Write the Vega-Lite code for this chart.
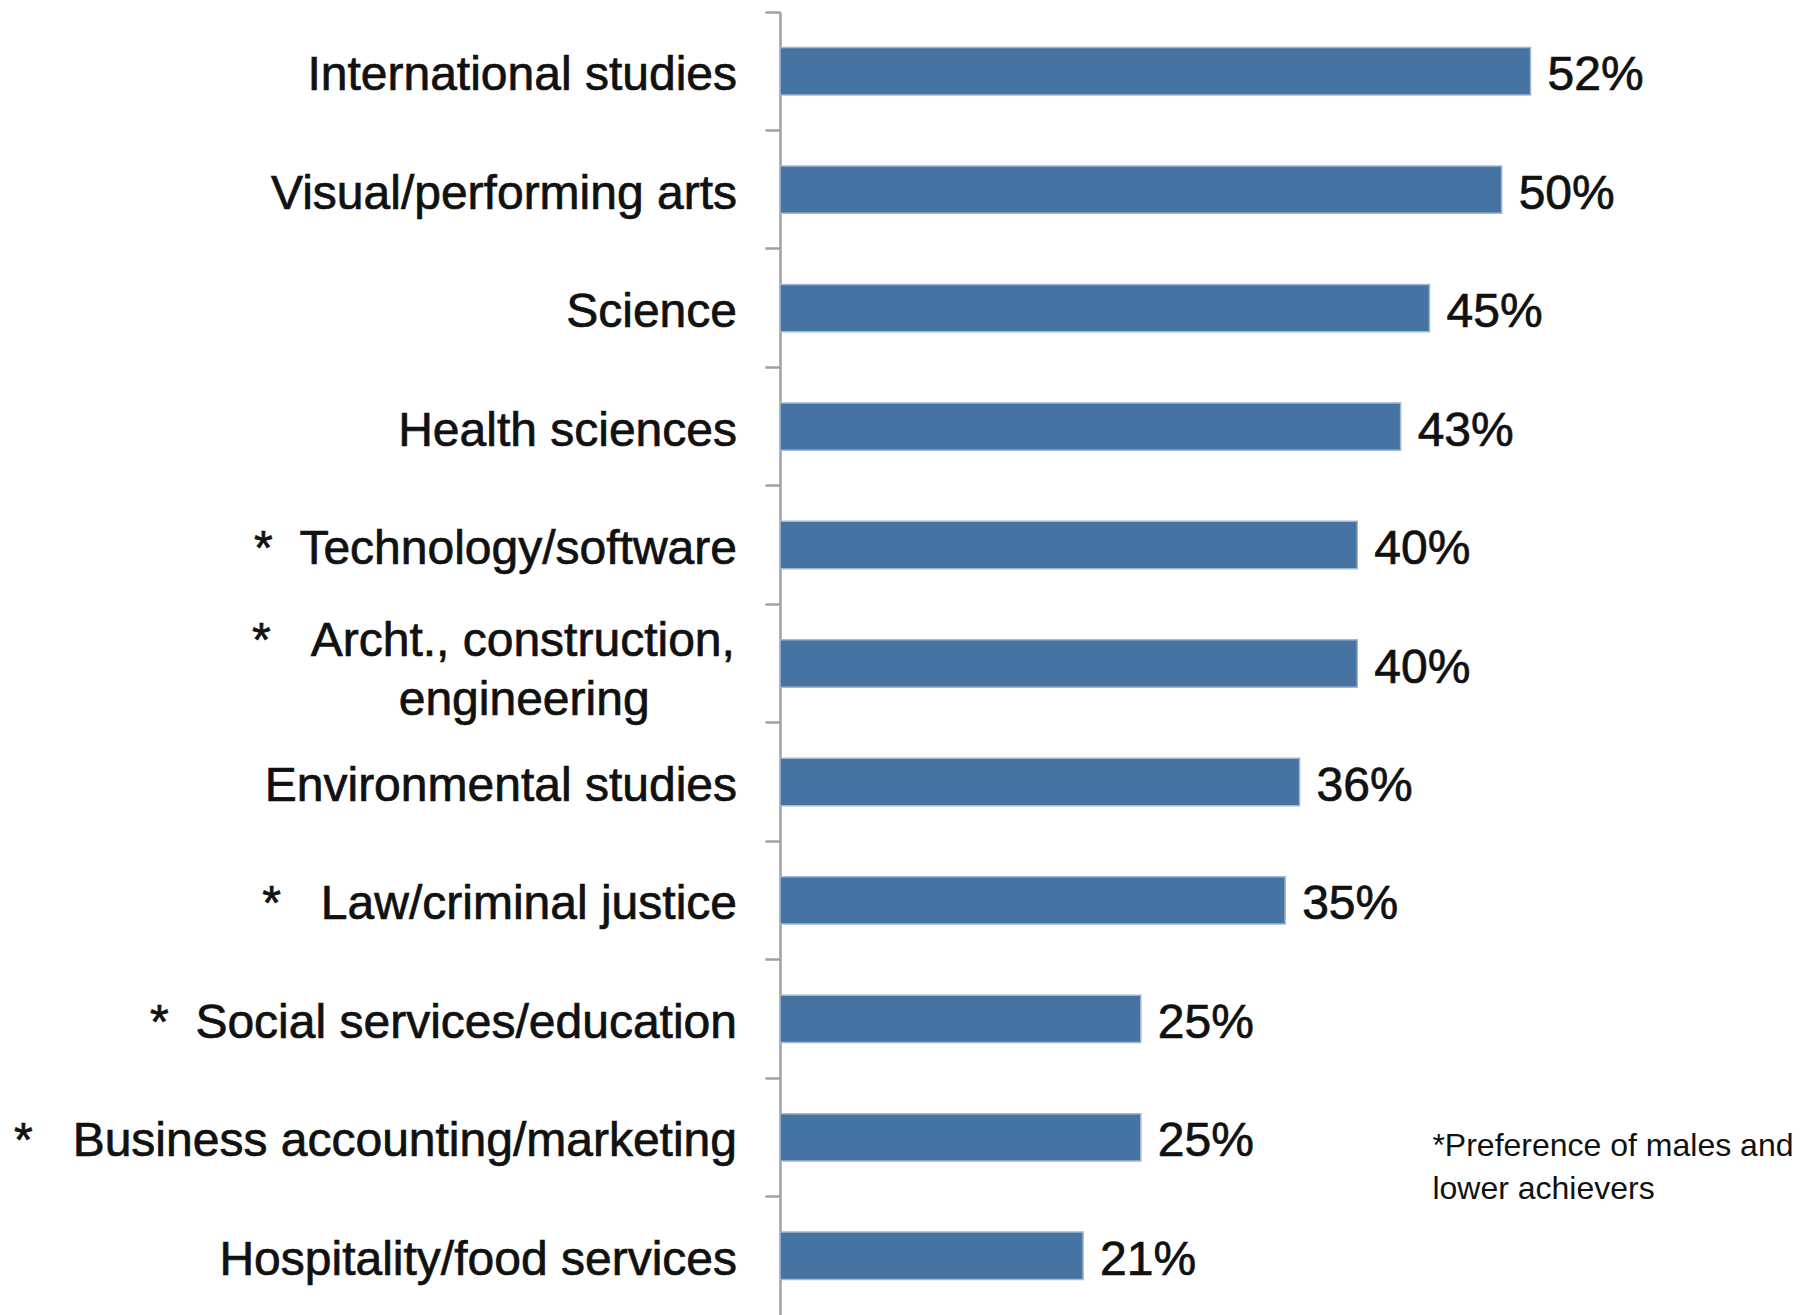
{
  "$schema": "https://vega.github.io/schema/vega-lite/v6.json",
  "autosize": {"type": "none"},
  "padding": {"left": 780, "top": 12, "right": 166, "bottom": 0},
  "width": 866,
  "height": 1303,
  "background": "white",
  "config": {
    "view": {"stroke": null},
    "font": "Liberation Sans",
    "text": {"font": "Liberation Sans", "color": "#111111"}
  },
  "data": {
    "values": [
      {"cat": "International studies", "label": "International studies", "value": 0.52},
      {"cat": "Visual/performing arts", "label": "Visual/performing arts", "value": 0.50},
      {"cat": "Science", "label": "Science", "value": 0.45},
      {"cat": "Health sciences", "label": "Health sciences", "value": 0.43},
      {"cat": "Technology/software", "label": "*\u00a0\u00a0Technology/software", "value": 0.40},
      {"cat": "Archt., construction, engineering", "label": "*\u00a0\u00a0\u00a0Archt., construction,\n\u200b\u00a0\u00a0\u00a0\u00a0\u00a0\u00a0\u00a0\u00a0\u00a0\u00a0\u00a0engineering", "value": 0.40},
      {"cat": "Environmental studies", "label": "Environmental studies", "value": 0.36},
      {"cat": "Law/criminal justice", "label": "*\u00a0\u00a0\u00a0Law/criminal justice", "value": 0.35},
      {"cat": "Social services/education", "label": "*\u00a0\u00a0Social services/education", "value": 0.25},
      {"cat": "Business accounting/marketing", "label": "*\u00a0\u00a0\u00a0Business accounting/marketing", "value": 0.25},
      {"cat": "Hospitality/food services", "label": "Hospitality/food services", "value": 0.21}
    ]
  },
  "encoding": {
    "y": {
      "field": "cat",
      "type": "nominal",
      "sort": null,
      "scale": {"paddingInner": 0, "paddingOuter": 0},
      "axis": {
        "title": null,
        "labels": false,
        "grid": false,
        "bandPosition": 0,
        "domainColor": "#a0a0a0",
        "domainWidth": 2.5,
        "tickColor": "#a0a0a0",
        "tickWidth": 2.5,
        "tickSize": 15
      }
    }
  },
  "layer": [
    {
      "mark": {"type": "bar", "height": {"band": 0.4}, "color": "#4674a2", "stroke": "#a3b7d2", "strokeWidth": 1.5},
      "encoding": {
        "x": {"field": "value", "type": "quantitative", "scale": {"domain": [0, 0.6], "nice": false}, "axis": null}
      }
    },
    {
      "mark": {"type": "text", "align": "left", "baseline": "middle", "dx": 17, "dy": 5, "fontSize": 48, "stroke": "#111111", "strokeWidth": 0.7},
      "encoding": {
        "x": {"field": "value", "type": "quantitative"},
        "text": {"field": "value", "type": "quantitative", "format": ".0%"}
      }
    },
    {
      "transform": [{"filter": "indexof(datum.label, '\\n') < 0"}],
      "mark": {"type": "text", "align": "right", "baseline": "middle", "dx": -43, "dy": 5, "fontSize": 48, "stroke": "#111111", "strokeWidth": 0.7},
      "encoding": {
        "x": {"datum": 0, "type": "quantitative"},
        "text": {"field": "label", "type": "nominal"}
      }
    },
    {
      "transform": [{"filter": "indexof(datum.label, '\\n') >= 0"}],
      "mark": {"type": "text", "align": "left", "baseline": "middle", "dx": -528, "dy": -22, "fontSize": 48, "lineBreak": "\n", "lineHeight": 59, "stroke": "#111111", "strokeWidth": 0.7},
      "encoding": {
        "x": {"datum": 0, "type": "quantitative"},
        "text": {"field": "label", "type": "nominal"}
      }
    },
    {
      "data": {"values": [{"note": "*Preference of males and\nlower achievers"}]},
      "mark": {"type": "text", "align": "left", "baseline": "middle", "dy": 9, "fontSize": 32, "lineBreak": "\n", "lineHeight": 43},
      "encoding": {
        "x": {"datum": 0.452, "type": "quantitative"},
        "y": {"datum": "Business accounting/marketing", "type": "nominal"},
        "text": {"field": "note", "type": "nominal"}
      }
    }
  ]
}
